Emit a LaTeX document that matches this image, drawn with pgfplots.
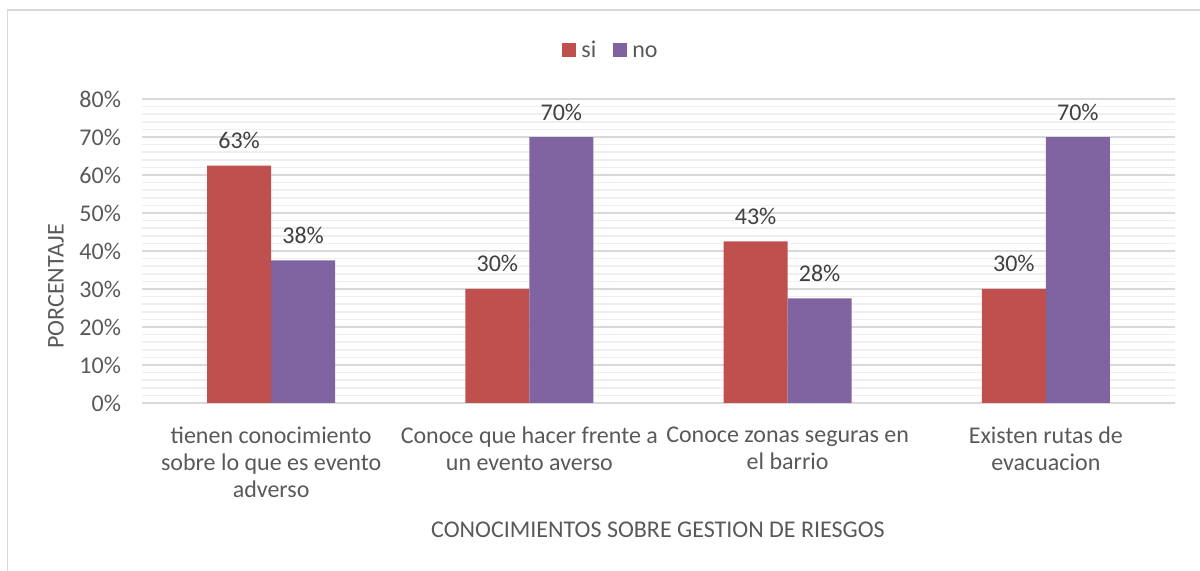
\documentclass[border=0pt]{standalone}
\usepackage{pgfplots}
\pgfplotsset{compat=1.18}
\usepackage{fontspec}
\setmainfont{Carlito}
\definecolor{cSi}{HTML}{C0504D}
\definecolor{cNo}{HTML}{8064A2}
\definecolor{gMaj}{HTML}{D9D9D9}
\definecolor{gMin}{HTML}{EFEFEF}
\definecolor{tGrey}{HTML}{595959}
\definecolor{tDark}{HTML}{404040}
\begin{document}
\begin{tikzpicture}[x=1pt,y=1pt]
\path[use as bounding box] (0,0) rectangle (600,285.5);
\draw[color=gMaj, line width=0.8pt] (3.75,-2) -- (3.75,280.5) -- (602,280.5);
\begin{axis}[
  at={(71pt,84pt)}, anchor=south west,
  scale only axis, width=516.5pt, height=152pt,
  xmin=-0.5, xmax=3.5, ymin=0, ymax=80,
  ybar=0pt, bar width=32pt,
  axis line style={draw=none},
  axis x line*=bottom,
  x axis line style={draw=gMaj, line width=0.8pt},
  xtick={0,1,2,3},
  xticklabels={{tienen conocimiento\\sobre lo que es evento\\adverso}, {Conoce que hacer frente a\\un evento averso}, {Conoce zonas seguras en\\el barrio}, {Existen rutas de\\evacuacion}},
  xticklabel style={align=center, font=\fontsize{12}{13.5}\selectfont, text=tGrey, yshift=-8.5pt},
  ytick={0,10,...,80},
  minor y tick num=4,
  ymajorgrids, yminorgrids,
  major grid style={draw=gMaj, line width=0.8pt},
  minor grid style={draw=gMin, line width=0.8pt},
  major tick length=0pt, minor tick length=0pt,
  /pgf/number format/assume math mode=true,
  yticklabel={\pgfmathprintnumber[fixed,precision=0]{\tick}\%},
  yticklabel style={font=\fontsize{12}{13.5}\selectfont, text=tGrey, xshift=-7pt},
  point meta=explicit symbolic,
  nodes near coords,
  nodes near coords style={font=\fontsize{12}{13.5}\selectfont, text=tDark, anchor=base, yshift=8.5pt},
  legend columns=2,
  legend style={at={(0.4555,1.16)}, anchor=center, draw=none, fill=none, font=\fontsize{12}{13.5}\selectfont, text=tGrey,
    nodes={text height=1.6ex, text depth=0.2ex, inner sep=2.5pt},
    /tikz/every even column/.append style={column sep=6pt}},
  legend image code/.code={\fill[#1] (0pt,-3.5pt) rectangle (7pt,3.5pt);},
  clip=false,
]
\addplot[fill=cSi, draw=none] coordinates {(0,62.5) [63\%] (1,30) [30\%] (2,42.5) [43\%] (3,30) [30\%]};
\addplot[fill=cNo, draw=none] coordinates {(0,37.5) [38\%] (1,70) [70\%] (2,27.5) [28\%] (3,70) [70\%]};
\legend{si, no}
\end{axis}
\node[font=\fontsize{12}{13.5}\selectfont, text=tGrey] at (329,20.5) {CONOCIMIENTOS SOBRE GESTION DE RIESGOS};
\node[font=\fontsize{12}{13.5}\selectfont, text=tGrey, rotate=90] at (28,142.25) {PORCENTAJE};
\end{tikzpicture}
\end{document}
